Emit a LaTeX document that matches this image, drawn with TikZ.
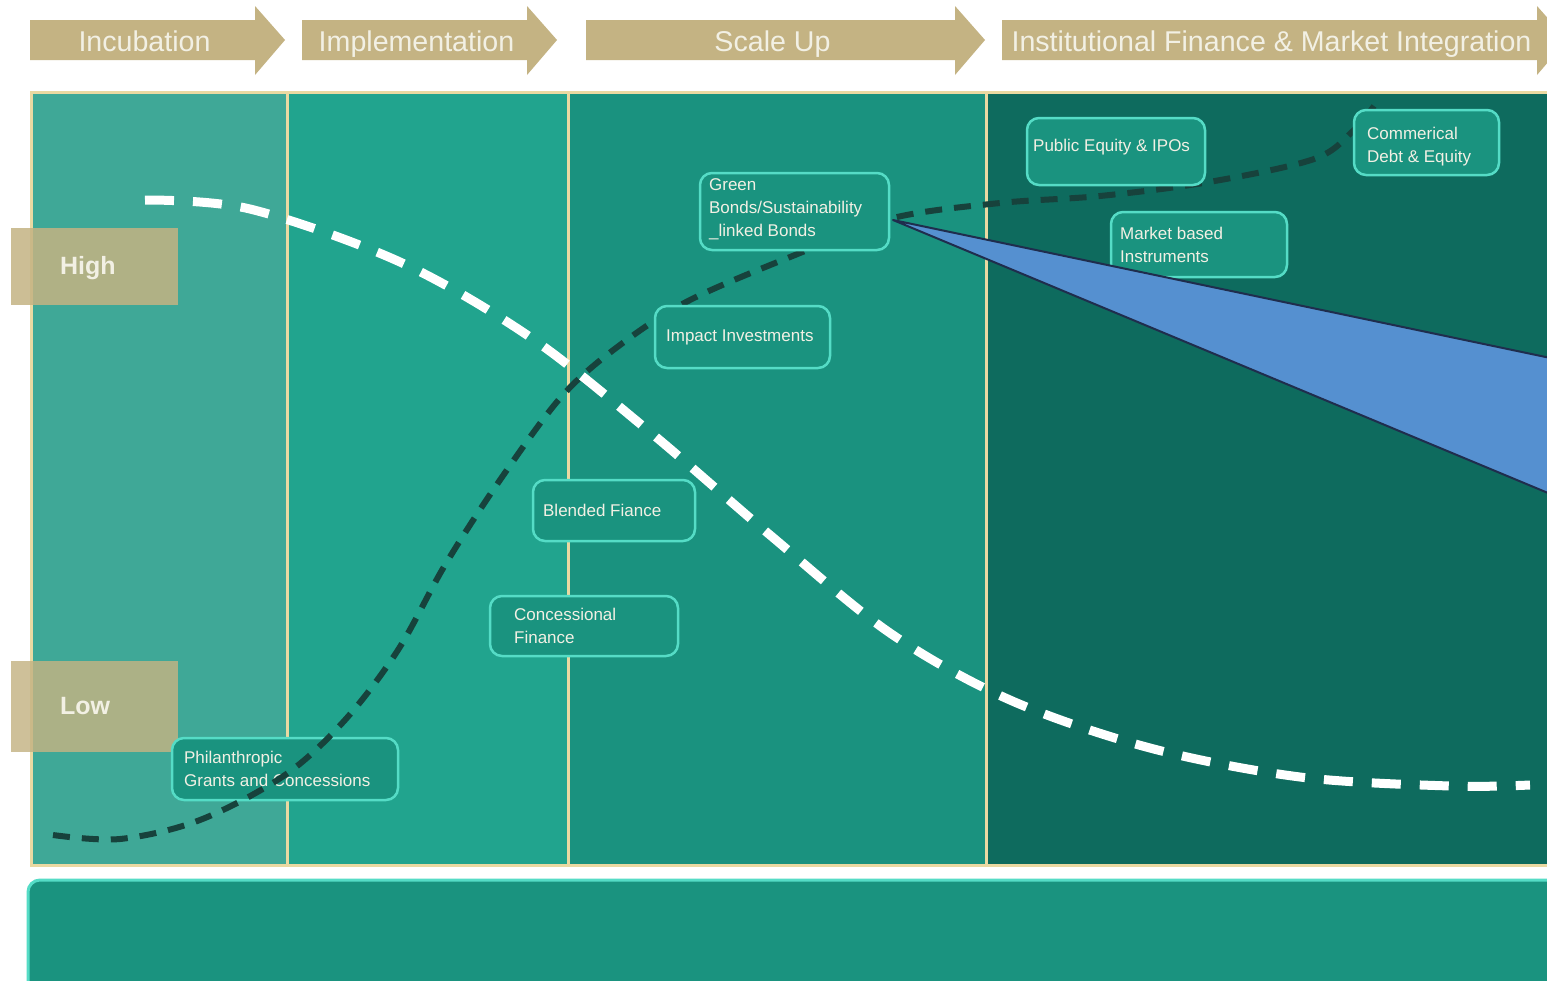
\documentclass[tikz,border=0pt]{standalone}
\usepackage{fontspec}
\setmainfont{Liberation Sans}
\usetikzlibrary{positioning, fit}
\definecolor{ctan}{HTML}{C4B383}
\definecolor{ccream}{HTML}{EAD9A2}
\definecolor{cteala}{HTML}{3FA897}
\definecolor{ctealb}{HTML}{21A48E}
\definecolor{ctealc}{HTML}{1A927F}
\definecolor{cteald}{HTML}{0E6B5E}
\definecolor{cbox}{HTML}{1A937F}
\definecolor{caqua}{HTML}{55DCC6}
\definecolor{cdark}{HTML}{17423C}
\definecolor{cblue}{HTML}{5590D0}
\definecolor{cnavy}{HTML}{1F2D4D}
\definecolor{ctext}{HTML}{F2F0E4}
\tikzset{
  stage/.style={fill=ctan, draw=none},
  stagetext/.style={text=ctext, font=\fontsize{14.3}{17}\selectfont, inner sep=0pt, anchor=base},
  fbox/.style={draw=caqua, fill=cbox, rounded corners=6pt, line width=1.25pt, inner sep=0pt},
  ftext/.style={text=ctext, font=\fontsize{8.5}{11.5}\selectfont, align=left, inner sep=0pt},
  level/.style={fill=ctan, fill opacity=#1, draw=none, inner sep=0pt},
  leveltext/.style={text=ctext, font=\fontsize{12.5}{15}\selectfont\bfseries, inner sep=0pt},
  divider/.style={draw=ccream, line width=1.5pt},
  riskline/.style={draw=white, line width=4.5pt, dash pattern=on 14.5pt off 9.5pt},
  fundline/.style={draw=cdark, line width=3pt, dash pattern=on 8.5pt off 6pt},
  callout/.style={fill=cblue, draw=cnavy, line width=1pt, line join=round},
}
\begin{document}
\begin{tikzpicture}[x=0.5pt, y=-0.5pt]
  \useasboundingbox (0,0) rectangle (1547,980);
  \clip (0,0) rectangle (1547,980);
  \fill[white] (0,0) rectangle (1547,980);
  % stage arrows
  \foreach \xa/\xb/\lbl [count=\i] in {30/255/Incubation, 302/527/Implementation, 586/955/Scale Up,
      1002/1537/Institutional Finance \& Market Integration} {
    \fill[stage] (\xa,20) -- (\xb,20) -- (\xb,6) -- (\xb+30,40) -- (\xb,75) -- (\xb,60) -- (\xa,60) -- cycle;
    \node[stagetext] (stage\i) at ({(\xa+\xb)/2+2},51) {\lbl};
  }
  % panel
  \foreach \xa/\xb/\c in {31/287/cteala, 287/568/ctealb, 568/986/ctealc, 986/1560/cteald}
    \fill[\c] (\xa,92) rectangle (\xb,865);
  \draw[divider] (1560,92) -- (31,92) -- (31,865) -- (1560,865);
  \foreach \x in {287,568,986} \draw[divider] (\x,92) -- (\x,865);
  \node[fbox, line width=1.5pt, fit={(28,880) (1580,1010)}] (bar) {};
  % high / low
  \node[level=0.85, fit={(11,228) (178,305)}] (high) {};
  \node[leveltext, right=24.5pt of high.west, yshift=-1pt] (hightxt) {High};
  \node[level=0.82, fit={(11,661) (178,752)}] (low) {};
  \node[leveltext, right=24.5pt of low.west] (lowtxt) {Low};
  \node[fbox, fit={(172,738) (398,800)}] (phil) {};
  \node[ftext, right=6.5pt of phil.west] (philtxt) {Philanthropic\\Grants and Concessions};
  % curves
  \draw[fundline] plot[smooth, tension=0.55] coordinates {(53,835) (120,839) (200,820) (285,775)
    (345,720) (398,650) (445,565) (500,480) (562,396) (620,345) (690,300) (800,253) (893,218)
    (1000,203) (1100,196) (1209,182) (1314,159) (1353,131) (1374,106)};
  \draw[riskline] plot[smooth, tension=0.55] coordinates {(145,200) (250,209) (400,262)
    (530,337) (650,432) (770,535) (890,633) (1010,700) (1150,748) (1300,777) (1450,786) (1530,785)};
  % instruments
  \node[fbox, fit={(490,596) (678,656)}] (conc) {};
  \node[ftext, right=12.5pt of conc.west] (conctxt) {Concessional\\Finance};
  \node[fbox, fit={(533,480) (695,541)}] (blend) {};
  \node[ftext, right=5.5pt of blend.west] (blendtxt) {Blended Fiance};
  \node[fbox, fit={(655,306) (830,368)}] (impact) {};
  \node[ftext, right=6pt of impact.west] (impacttxt) {Impact Investments};
  \node[fbox, fit={(700,173) (889,250)}] (green) {};
  \node[ftext, right=5pt of green.west, yshift=1pt] (greentxt) {Green\\Bonds/Sustainability\\\_linked Bonds};
  \node[fbox, fit={(1027,118) (1205,185)}] (public) {};
  \node[ftext, right=3.5pt of public.west, yshift=2.25pt] (publictxt) {Public Equity \& IPOs};
  \node[fbox, fit={(1111,212) (1287,277)}] (market) {};
  \node[ftext, right=5pt of market.west] (markettxt) {Market based\\Instruments};
  \node[fbox, fit={(1354,110) (1499,175)}] (comm) {};
  \node[ftext, right=7pt of comm.west, yshift=-2pt] (commtxt) {Commerical\\Debt \& Equity};
  \coordinate (tip) at (893,220);
  \draw[callout] (tip) -- (1560,360) -- (1560,498) -- cycle;
\end{tikzpicture}
\end{document}
